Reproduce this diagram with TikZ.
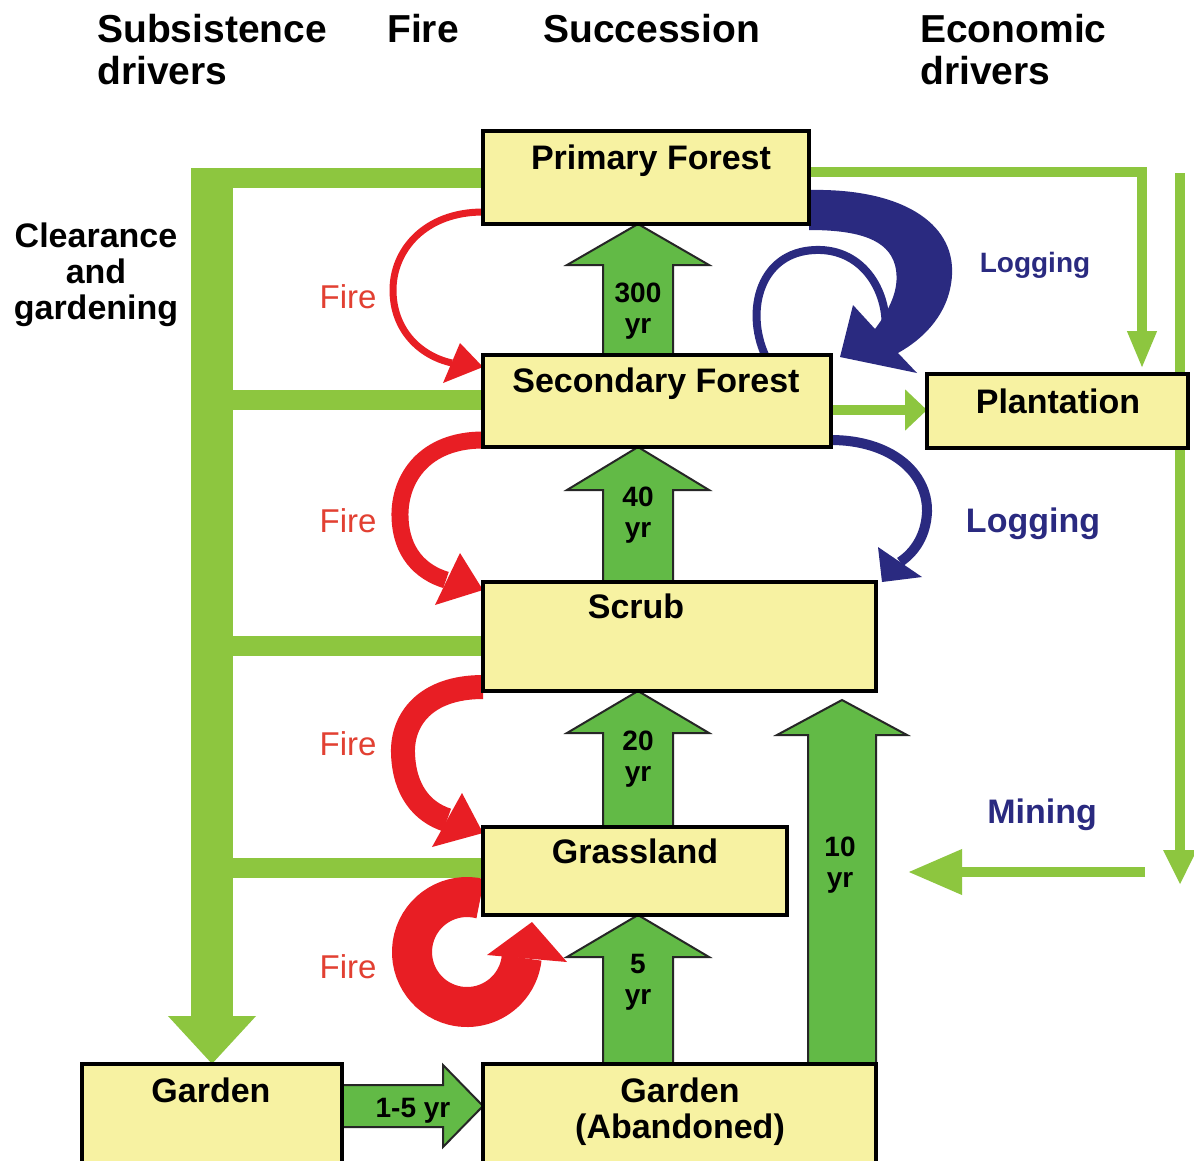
\documentclass[tikz,border=0pt]{standalone}
\usepackage{fontspec}
\setmainfont{Liberation Sans}
\usetikzlibrary{arrows.meta,calc}
\definecolor{boxyellow}{RGB}{247,242,162}
\definecolor{drvgreen}{RGB}{141,198,63}
\definecolor{sucgreen}{RGB}{98,186,70}
\definecolor{firered}{RGB}{232,30,36}
\definecolor{firetxt}{RGB}{226,64,50}
\definecolor{navyblue}{RGB}{42,42,128}
\pgfdeclarelayer{back}
\pgfdeclarelayer{bg}
\pgfsetlayers{back,bg,main}
\newcommand\sucup[6]{% cx, shaft half, head half, head base y, bottom anchor, tip spec
  \filldraw[sucarrow] (#1-#2,0 |- #5) -- (#1-#2,#4) -- (#1-#3,#4) -- (#1,0 |- #6)
    -- (#1+#3,#4) -- (#1+#2,#4) -- (#1+#2,0 |- #5) -- cycle;}
\begin{document}
\begin{tikzpicture}[x=1pt,y=-1pt,
  box/.style={draw=black,line width=4.5pt,fill=boxyellow,inner sep=0pt,outer sep=0pt},
  hdr/.style={font=\bfseries\fontsize{39}{42}\selectfont,anchor=base west,inner sep=0pt},
  boxtxt/.style={font=\bfseries\fontsize{34}{36}\selectfont,anchor=base,inner sep=0pt},
  firelbl/.style={font=\fontsize{33}{36}\selectfont,text=firetxt,anchor=base,inner sep=0pt},
  loglbl/.style={font=\bfseries\fontsize{34}{36}\selectfont,text=navyblue,anchor=base,inner sep=0pt},
  numtxt/.style={font=\bfseries\fontsize{28}{30}\selectfont,anchor=base,inner sep=0pt},
  drvline/.style={draw=drvgreen,line width=20pt},
  econline/.style={draw=drvgreen,line width=10pt},
  sucarrow/.style={fill=sucgreen,draw=black!85,line width=2pt,line join=miter},
  firestroke/.style={draw=firered},
  logstroke/.style={draw=navyblue},
]
\useasboundingbox (0,0) rectangle (1194,1160);
\begin{pgfonlayer}{back}
  \fill[white] (0,0) rectangle (1194,1160);
\end{pgfonlayer}

% ---------------- boxes ----------------
\node[box,minimum width=326pt,minimum height=93pt] (prim)  at (646,177.5) {};
\node[box,minimum width=348pt,minimum height=92pt] (sec)   at (657,401) {};
\node[box,minimum width=261pt,minimum height=74pt] (plant) at (1057.5,411) {};
\node[box,minimum width=393pt,minimum height=109pt] (scrub) at (679.5,636.5) {};
\node[box,minimum width=304pt,minimum height=88pt] (grass) at (635,871) {};
\node[box,minimum width=260pt,minimum height=104pt] (garden) at (212,1116) {};
\node[box,minimum width=393pt,minimum height=104pt] (aband) at (679.5,1116) {};

\node[boxtxt] at (651,169) {Primary Forest};
\node[boxtxt] at (656,392) {Secondary Forest};
\node[boxtxt] at (1058,413) {Plantation};
\node[boxtxt] at (636,618) {Scrub};
\node[boxtxt] at (635,863) {Grassland};
\node[boxtxt] at (211,1102) {Garden};
\node[boxtxt] at (680,1102) {Garden};
\node[boxtxt] at (680,1138) {(Abandoned)};

% ---------------- headers and labels ----------------
\node[hdr] at (97,42) {Subsistence};
\node[hdr] at (97,84) {drivers};
\node[hdr] at (387,42) {Fire};
\node[hdr] at (543,42) {Succession};
\node[hdr] at (920,42) {Economic};
\node[hdr] at (920,84) {drivers};

\node[boxtxt] at (96,247) {Clearance};
\node[boxtxt] at (96,283) {and};
\node[boxtxt] at (96,319) {gardening};

\node[firelbl] at (348,308) {Fire};
\node[firelbl] at (348,532) {Fire};
\node[firelbl] at (348,755) {Fire};
\node[firelbl] at (348,978) {Fire};

\node[loglbl,font=\bfseries\fontsize{28}{30}\selectfont] at (1035,272) {Logging};
\node[loglbl] at (1033,532) {Logging};
\node[loglbl] at (1042,823) {Mining};

% ---------------- connectors ----------------
\begin{pgfonlayer}{bg}
  % subsistence drivers
  \draw[drvline] (191,178) -- (prim.west |- 0,178);
  \draw[drvline] (233,400) -- (sec.west |- 0,400);
  \draw[drvline] (233,646) -- (scrub.west |- 0,646);
  \draw[drvline] (233,868) -- (grass.west |- 0,868);
  \draw[draw=drvgreen,line width=42pt,-{Triangle[length=48pt,width=85pt]}] (212,168) -- (garden.north);

  % economic drivers
  \draw[econline,-{Triangle[length=38pt,width=27pt]}] (prim.east |- 0,172) -- (1142,172) -- (1142,369);
  \coordinate (ectop) at (1180,173);
  \coordinate (ecbot) at (1180,885);
  \draw[econline,-{Triangle[length=35pt,width=31pt]}] (ectop) -- (ecbot);
  \coordinate (minestart) at (1145,872);
  \coordinate (mineend) at (908,872);
  \draw[econline,-{Triangle[length=54pt,width=43pt]}] (minestart) -- (mineend);
  \draw[econline,-{Triangle[length=22pt,width=40pt]}] (sec.east |- 0,410) -- (plant.west |- 0,410);

  % fire arrows
  \draw[firestroke,line width=7pt] (prim.west |- 0,212) .. controls (425,212) and (393,250) .. (393,290)
     .. controls (393,330) and (420,356) .. (452,363);
  \fill[firered] (443,383) -- (sec.west |- 0,367) -- (460,343) -- cycle;

  \draw[firestroke,line width=17pt] (sec.west |- 0,440) .. controls (425,440) and (399,478) .. (400,517)
     .. controls (401,552) and (420,572) .. (446,580);
  \fill[firered] (435,605) -- (scrub.west |- 0,590) -- (460,553) -- cycle;

  \draw[firestroke,line width=24pt] (scrub.west |- 0,687) .. controls (425,687) and (402,720) .. (403,753)
     .. controls (404,790) and (422,812) .. (447,820);
  \fill[firered] (432,847) -- (grass.west |- 0,833) -- (462,793) -- cycle;

  \draw[firestroke,line width=40pt] (467,952) ++(-76:55) arc[start angle=-76,end angle=-354,radius=55];
  \fill[firered] (487,955) -- (532,922) -- (567,962) -- cycle;

  % logging arrows
  \draw[logstroke,line width=8pt] (765,0 |- sec.north) .. controls (745,310) and (760,252) .. (815,250)
     .. controls (865,248) and (890,295) .. (885,335);
  \fill[navyblue] (prim.east |- 0,190) .. controls (900,188) and (955,222) .. (952,275)
     .. controls (950,312) and (925,338) .. (898,353) -- (917,373) -- (840,357) -- (853,305) -- (875,329)
     .. controls (893,305) and (900,285) .. (895,265) .. controls (888,240) and (860,230) .. (prim.east |- 0,230) -- cycle;

  \draw[logstroke,line width=10pt] (sec.east |- 0,440) .. controls (890,440) and (928,472) .. (927,512)
     .. controls (926,535) and (915,552) .. (900,562);
  \fill[navyblue] (878,547) -- (882,582) -- (922,577) -- cycle;

  % succession arrows
  \sucup{638}{35}{71}{265}{sec.north}{prim.south}
  \sucup{638}{35}{71}{490}{scrub.north}{sec.south}
  \sucup{638}{35}{71}{733}{grass.north}{scrub.south}
  \sucup{638}{35}{71}{957}{aband.north}{grass.south}
  \sucup{842}{34}{65}{735}{aband.north}{0,700}
  \filldraw[sucarrow] (garden.east |- 0,1085) -- (443,1085) -- (443,1065) -- (aband.west |- 0,1106)
     -- (443,1147) -- (443,1127) -- (garden.east |- 0,1127) -- cycle;
\end{pgfonlayer}

% succession labels
\node[numtxt] at (638,302) {300};
\node[numtxt] at (638,333) {yr};
\node[numtxt] at (638,506) {40};
\node[numtxt] at (638,537) {yr};
\node[numtxt] at (638,750) {20};
\node[numtxt] at (638,781) {yr};
\node[numtxt] at (638,973) {5};
\node[numtxt] at (638,1004) {yr};
\node[numtxt] at (840,856) {10};
\node[numtxt] at (840,887) {yr};
\node[numtxt] at (413,1117) {1-5 yr};
\end{tikzpicture}
\end{document}
